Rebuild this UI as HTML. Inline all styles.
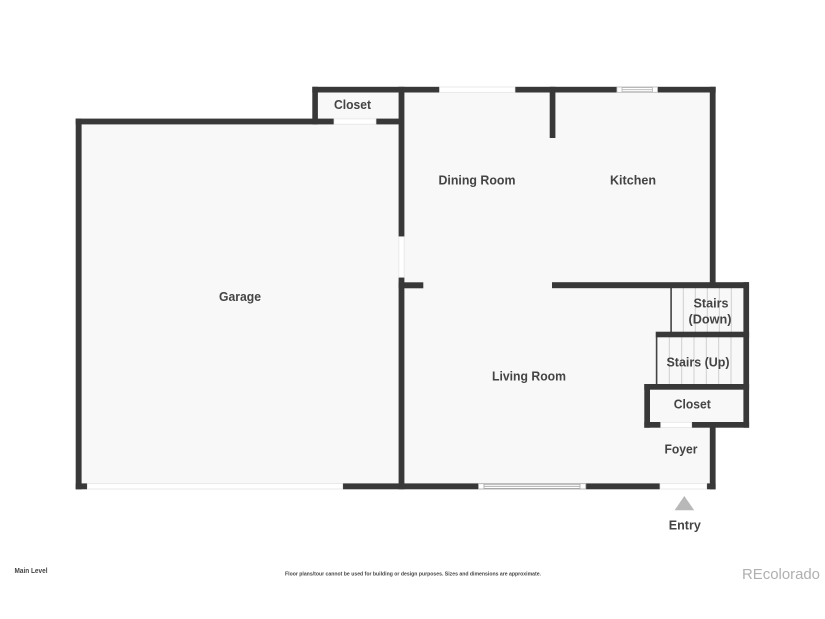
<!DOCTYPE html>
<html>
<head>
<meta charset="utf-8">
<style>
html,body{margin:0;padding:0;background:#fff;width:825px;height:619px;overflow:hidden}
svg{display:block}
text{font-family:"Liberation Sans",sans-serif;font-weight:700;fill:#444;font-size:13px;text-anchor:middle;dominant-baseline:central}
</style>
</head>
<body>
<svg width="825" height="619" viewBox="0 0 825 619" xmlns="http://www.w3.org/2000/svg">
<!-- floor fill -->
<path d="M78 121H315V89H713V285H746V425H713V487H78Z" fill="#f8f8f8"/>

<!-- stair lines -->
<g stroke="#cfcfcf" stroke-width="1">
<path d="M683.3 288V332M695.3 288V332M707.3 288V332M719.3 288V332M731.3 288V332"/>
<path d="M669.3 337V384M681.7 337V384M694 337V384M706.3 337V384M718.7 337V384M731 337V384"/>
</g>
<rect x="670.3" y="288" width="1.6" height="44" fill="#444"/>
<rect x="655.8" y="337" width="1.6" height="47" fill="#444"/>

<!-- walls -->
<g fill="#383838">
<rect x="312.3" y="86.8" width="127.2" height="5.7"/>
<rect x="515" y="86.8" width="101.7" height="5.7"/>
<rect x="657.7" y="86.8" width="58" height="5.7"/>
<rect x="312.3" y="86.8" width="5.6" height="37.7"/>
<rect x="75.7" y="118.6" width="258.3" height="5.8"/>
<rect x="376" y="118.6" width="28" height="5.8"/>
<rect x="398.6" y="86.8" width="5.8" height="150"/>
<rect x="398.6" y="277.3" width="5.8" height="212"/>
<rect x="398.6" y="282.3" width="24.7" height="6"/>
<rect x="549.7" y="86.8" width="5.7" height="51.2"/>
<rect x="709.8" y="86.8" width="5.8" height="198"/>
<rect x="552" y="282.2" width="197" height="6"/>
<rect x="743.4" y="282.2" width="5.7" height="145.5"/>
<rect x="655.7" y="331.7" width="93.4" height="5.6"/>
<rect x="644.3" y="384" width="104.8" height="5.7"/>
<rect x="644.3" y="384" width="5.7" height="43.7"/>
<rect x="644.3" y="422" width="16.4" height="5.7"/>
<rect x="691.7" y="422" width="57.4" height="5.7"/>
<rect x="709.8" y="422" width="5.8" height="67.3"/>
<rect x="75.7" y="118.6" width="5.9" height="370.7"/>
<rect x="75.7" y="483.4" width="11.6" height="5.9"/>
<rect x="342.7" y="483.4" width="135.6" height="5.9"/>
<rect x="586" y="483.4" width="74" height="5.9"/>
<rect x="706.7" y="483.4" width="8.9" height="5.9"/>
</g>

<!-- openings -->
<g fill="#fff" stroke="#e2e2e2" stroke-width="0.7">
<rect x="439.5" y="87" width="75.5" height="5.3"/>
<rect x="334" y="118.9" width="42" height="5.3"/>
<rect x="398.9" y="236.7" width="5.2" height="40.6"/>
<rect x="660.7" y="422.3" width="31" height="5.2"/>
<rect x="87.3" y="483.7" width="255.4" height="5.3"/>
<rect x="660" y="483.7" width="46.7" height="5.3"/>
</g>

<!-- kitchen window -->
<g fill="#fff" stroke="#b5b5b5" stroke-width="0.8">
<rect x="616.9" y="87" width="40.6" height="5.3"/>
<rect x="622" y="87.6" width="30.5" height="4.1"/>
<path d="M622 89.7H652.5" fill="none"/>
</g>
<!-- living room window -->
<g fill="#fff" stroke="#a5a5a5" stroke-width="0.8">
<rect x="478.5" y="483.7" width="107.3" height="5.3"/>
<rect x="484" y="484.3" width="96" height="4.1"/>
<path d="M484 486.3H580" fill="none"/>
</g>

<!-- entry arrow -->
<polygon points="684.3,496 694.2,510.3 674.6,510.3" fill="#b8b8b8"/>

<!-- labels -->
<text x="352.5" y="104.5" textLength="37" lengthAdjust="spacingAndGlyphs">Closet</text>
<text x="477" y="180" textLength="77" lengthAdjust="spacingAndGlyphs">Dining Room</text>
<text x="633" y="180" textLength="46" lengthAdjust="spacingAndGlyphs">Kitchen</text>
<text x="240" y="296.5" textLength="42" lengthAdjust="spacingAndGlyphs">Garage</text>
<text x="529" y="376" textLength="74" lengthAdjust="spacingAndGlyphs">Living Room</text>
<text x="711" y="303" textLength="35" lengthAdjust="spacingAndGlyphs">Stairs</text>
<text x="710" y="319" textLength="43" lengthAdjust="spacingAndGlyphs">(Down)</text>
<text x="698" y="362" textLength="63" lengthAdjust="spacingAndGlyphs">Stairs (Up)</text>
<text x="692.3" y="404" textLength="37" lengthAdjust="spacingAndGlyphs">Closet</text>
<text x="681" y="449" textLength="33" lengthAdjust="spacingAndGlyphs">Foyer</text>
<text x="684.8" y="525" textLength="32" lengthAdjust="spacingAndGlyphs">Entry</text>
<text x="31" y="571.5" style="font-size:7px" textLength="33" lengthAdjust="spacingAndGlyphs">Main Level</text>
<text x="413" y="574.5" style="font-size:5px" textLength="256" lengthAdjust="spacingAndGlyphs">Floor plans/tour cannot be used for building or design purposes. Sizes and dimensions are approximate.</text>
<text x="781" y="574.5" style="font-size:15px;font-weight:400;fill:#b0b0b0" textLength="78" lengthAdjust="spacingAndGlyphs">REcolorado</text>
</svg>
</body>
</html>
